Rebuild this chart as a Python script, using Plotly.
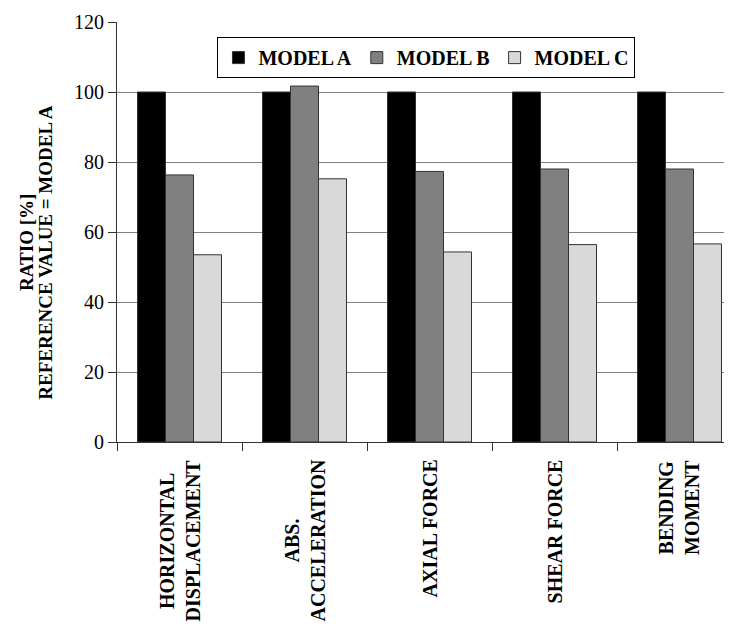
import plotly.graph_objects as go

categories = ["HORIZONTAL<br>DISPLACEMENT", "ABS.<br>ACCELERATION", "AXIAL FORCE", "SHEAR FORCE", "BENDING<br>MOMENT"]
cat_keys = ["HD", "AA", "AF", "SF", "BM"]
model_a = [100, 100, 100, 100, 100]
model_b = [76.3, 101.7, 77.3, 78.0, 78.0]
model_c = [53.5, 75.2, 54.3, 56.4, 56.6]
series_names = ["MODEL A", "MODEL B", "MODEL C"]
series_colors = ["#000000", "#808080", "#d9d9d9"]
y_ticks = [0, 20, 40, 60, 80, 100, 120]

FONT = "Liberation Serif"

fig = go.Figure()
for name, vals, col in zip(series_names, [model_a, model_b, model_c], series_colors):
    fig.add_trace(go.Bar(
        x=cat_keys, y=vals, name=name,
        marker=dict(color=col, line=dict(color="#333333", width=1)),
    ))

# category labels (centered multi-line, rotated)
for key, lab in zip(cat_keys, categories):
    fig.add_annotation(
        x=key, xref="x", y=-0.038, yref="paper",
        text="<b>" + lab.replace("<br>", "</b><br><b>") + "</b>", textangle=-90, showarrow=False,
        xanchor="center", yanchor="top", align="center",
        font=dict(family=FONT, size=20, color="black"),
    )

# y-axis title, two lines
fig.add_annotation(
    x=-0.1475, xref="paper", y=0.475, yref="paper",
    text="<b>RATIO [%]</b>", textangle=-90, showarrow=False,
    xanchor="center", yanchor="middle",
    font=dict(family=FONT, size=19, color="black"),
)
fig.add_annotation(
    x=-0.1165, xref="paper", y=0.452, yref="paper",
    text="<b>REFERENCE VALUE = MODEL A</b>", textangle=-90, showarrow=False,
    xanchor="center", yanchor="middle",
    font=dict(family=FONT, size=19, color="black"),
)

fig.update_layout(
    width=724, height=616,
    margin=dict(l=109, r=1, t=14, b=182),
    paper_bgcolor="white", plot_bgcolor="white",
    barmode="group", bargap=0.328, bargroupgap=0,
    font=dict(family=FONT, color="black"),
    legend=dict(
        orientation="h", x=0.504, xanchor="center", y=0.964, yanchor="top",
        bordercolor="black", borderwidth=1, bgcolor="white",
        font=dict(family=FONT, size=20, color="black", weight="bold"),
    ),
    xaxis=dict(
        type="category", range=[-0.5, 4.412],
        showline=True, linecolor="#333333", linewidth=1,
        ticks="outside", tickson="boundaries", ticklen=8, tickcolor="#333333",
        showticklabels=False, showgrid=False,
    ),
    yaxis=dict(
        range=[0, 120], tickvals=y_ticks,
        showline=True, linecolor="#333333", linewidth=1,
        ticks="outside", ticklen=8, tickcolor="#333333",
        gridcolor="#808080", gridwidth=1, zeroline=False,
        tickfont=dict(family=FONT, size=20, color="black"),
    ),
)

fig.write_html("out.html")
